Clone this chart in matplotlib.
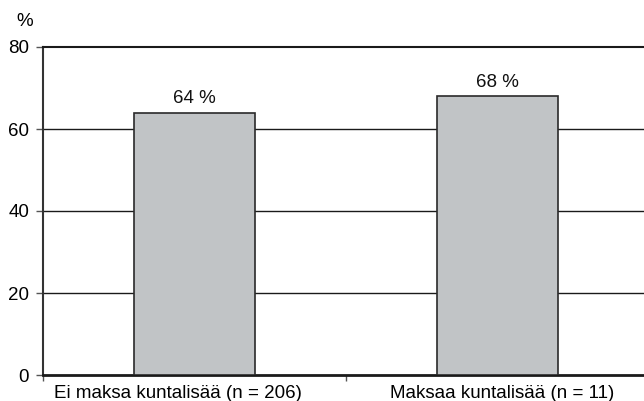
import matplotlib
matplotlib.use("Agg")
import matplotlib.pyplot as plt
from matplotlib.ticker import FixedLocator
import matplotlib.transforms as mtransforms

categories = ["Ei maksa kuntalisää (n = 206)", "Maksaa kuntalisää (n = 11)"]
values = [64, 68]
value_labels = ["64 %", "68 %"]
y_ticks = [0, 20, 40, 60, 80]

plt.rcParams["font.family"] = ["Liberation Sans", "DejaVu Sans"]
FS = 13.5

fig = plt.figure(figsize=(6.44, 4.01), dpi=100)
W, H = 644, 401
ax = fig.add_axes([43 / W, 26 / H, 606 / W, 328 / H])

x = list(range(len(categories)))
ax.bar(x, values, width=0.4, color="#c1c4c6", edgecolor="#2a2a2a", linewidth=1.2, zorder=3)

for xi, v, lab in zip(x, values, value_labels):
    ax.annotate(lab, (xi, v), xytext=(0, 4), textcoords="offset points",
                ha="center", va="bottom", fontsize=FS, color="#111111")

ax.set_xlim(-0.5, len(categories) - 0.5)
ax.set_ylim(0, 80)
ax.set_yticks(y_ticks)
ax.set_yticklabels([str(t) for t in y_ticks], fontsize=FS)
ax.set_xticks(x)
ax.set_xticklabels(categories, fontsize=FS)
ax.xaxis.set_minor_locator(FixedLocator([-0.5, 0.5, 1.5]))
ax.tick_params(axis="x", which="major", length=0, pad=7)
ax.tick_params(axis="x", which="minor", length=4, width=1, color="#555555", direction="out")
ax.tick_params(axis="y", length=5, width=1, color="#555555", direction="out", pad=5)

# nudge the category labels horizontally
shift = mtransforms.ScaledTranslation(-17 / 100, 0, fig.dpi_scale_trans)
lbls = ax.get_xticklabels()
lbls[0].set_transform(lbls[0].get_transform() + shift)
shift2 = mtransforms.ScaledTranslation(5 / 100, 0, fig.dpi_scale_trans)
lbls[1].set_transform(lbls[1].get_transform() + shift2)

for t in y_ticks[1:-1]:
    ax.axhline(t, color="#1a1a1a", linewidth=1.0, zorder=1)

ax.spines["right"].set_visible(False)
ax.spines["top"].set_color("#1a1a1a")
ax.spines["top"].set_linewidth(1.5)
ax.spines["bottom"].set_color("#1a1a1a")
ax.spines["bottom"].set_linewidth(2.0)
ax.spines["left"].set_color("#333333")
ax.spines["left"].set_linewidth(1.5)

fig.text(25 / W, 1 - 21 / H, "%", ha="center", va="center", fontsize=FS)

fig.savefig("out.png", dpi=100)
